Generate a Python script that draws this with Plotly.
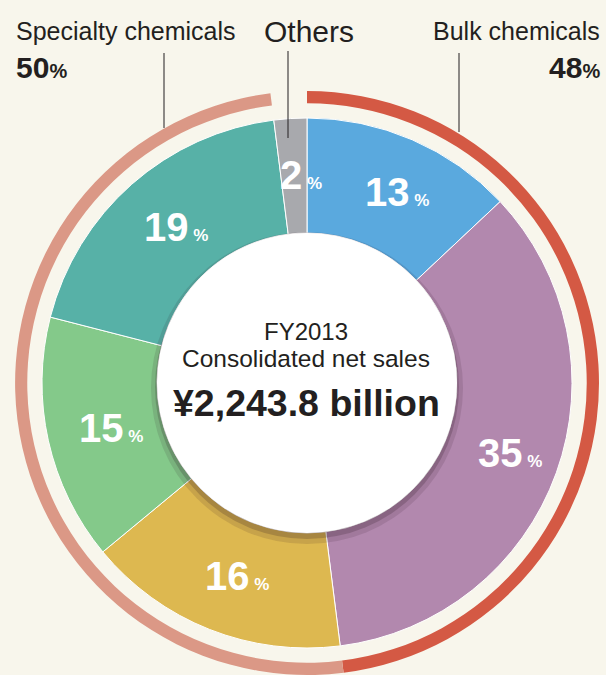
import math
import plotly.graph_objects as go

# FY2013 consolidated net sales by segment (share, %)
segments = ["Basic Chemicals", "Petrochemicals & Plastics", "IT-related Chemicals",
            "Health & Crop Sciences", "Pharmaceuticals", "Others"]
shares = [13, 35, 16, 15, 19, 2]
segment_colors = ["#5AA9DE", "#B288AE", "#DDB850", "#84C98A", "#57B1A7", "#A8A9AD"]

# outer ring: bulk vs specialty (others left as a gap)
groups = ["Bulk chemicals", "Specialty chemicals", "Others"]
group_shares = [48, 50, 2]
group_colors = ["#D45944", "#DB9886", "rgba(0,0,0,0)"]

BG = "#F8F6EC"
INK = "#231F20"
W, H = 606, 675
CX, CY = 307, 292  # pie centre in px (from left, from bottom)
LABEL_R = 208


def circle_domain(r, dy=0):
    return dict(x=[(CX - r) / W, (CX + r) / W],
                y=[(CY - dy - r) / H, (CY - dy + r) / H])


def px_y(y):
    return 1 - y / H


fig = go.Figure()

fig.add_trace(go.Pie(
    labels=groups, values=group_shares, sort=False, direction="clockwise",
    hole=0.958, domain=circle_domain(292),
    marker=dict(colors=group_colors, line=dict(width=0)),
    textinfo="none", hoverinfo="label+percent", showlegend=False,
))

fig.add_trace(go.Pie(
    labels=segments, values=shares, sort=False, direction="clockwise",
    hole=150 / 265, domain=circle_domain(265),
    marker=dict(colors=segment_colors, line=dict(color="white", width=1)),
    textinfo="none", hoverinfo="label+percent", showlegend=False,
))

# soft shadow under the centre disc, then the white disc
fig.add_trace(go.Pie(values=[1], domain=circle_domain(156, 5), hole=0,
                     marker=dict(colors=["rgba(40,20,30,0.12)"], line=dict(width=0)),
                     textinfo="none", hoverinfo="skip", showlegend=False, sort=False))
fig.add_trace(go.Pie(values=[1], domain=circle_domain(152, 4), hole=0,
                     marker=dict(colors=["rgba(40,20,30,0.2)"], line=dict(width=0)),
                     textinfo="none", hoverinfo="skip", showlegend=False, sort=False))
fig.add_trace(go.Pie(values=[1], domain=circle_domain(150), hole=0,
                     marker=dict(colors=["white"], line=dict(width=0)),
                     textinfo="none", hoverinfo="skip", showlegend=False, sort=False))

annotations = [
    dict(text="FY2013", x=306 / W, y=px_y(331), font=dict(size=24)),
    dict(text="Consolidated net sales", x=306 / W, y=px_y(359), font=dict(size=24.5)),
    dict(text="<b>¥2,243.8 billion</b>", x=306 / W, y=px_y(403), font=dict(size=37.5)),
    dict(text="Specialty chemicals", x=14 / W, y=px_y(31), xanchor="left", font=dict(size=25)),
    dict(text="Others", x=309 / W, y=px_y(31), font=dict(size=30)),
    dict(text="Bulk chemicals", x=602 / W, y=px_y(31), xanchor="right", font=dict(size=25)),
    dict(text="<b>50</b><span style='font-size:20px'><b>%</b></span>", x=14 / W, y=px_y(67),
         xanchor="left", font=dict(size=30)),
    dict(text="<b>48</b><span style='font-size:20px'><b>%</b></span>", x=602 / W, y=px_y(67),
         xanchor="right", font=dict(size=30)),
]
for a in annotations:
    a.setdefault("xanchor", "center")
    a["font"] = dict(family="Liberation Sans", color=INK, **a["font"])

# slice labels at the middle angle of each slice
total = sum(shares)
start = 0
for v in shares:
    ang = math.radians((start + v / 2) / total * 360)
    start += v
    annotations.append(dict(
        text=f"<b>{v}</b><span style='font-size:17px'><b> %</b></span>",
        x=(CX + LABEL_R * math.sin(ang)) / W,
        y=(CY + LABEL_R * math.cos(ang)) / H,
        xshift=7, xanchor="center",
        font=dict(family="Liberation Sans", size=40, color="white"),
    ))

for a in annotations:
    a.update(xref="paper", yref="paper", yanchor="middle", showarrow=False)

# leader lines from the labels to the rings
leaders = [(164, 53, 128), (288, 51, 138), (459, 53, 132)]
shapes = [dict(type="line", xref="paper", yref="paper", x0=x / W, x1=x / W,
               y0=px_y(y0), y1=px_y(y1), line=dict(color=INK, width=1))
          for x, y0, y1 in leaders]

fig.update_layout(
    width=W, height=H,
    margin=dict(l=0, r=0, t=0, b=0),
    paper_bgcolor=BG, plot_bgcolor=BG,
    annotations=annotations, shapes=shapes,
)

fig.write_html("out.html", config={"displayModeBar": False},
               post_script="document.body.style.margin='0';document.body.style.overflow='hidden';")
